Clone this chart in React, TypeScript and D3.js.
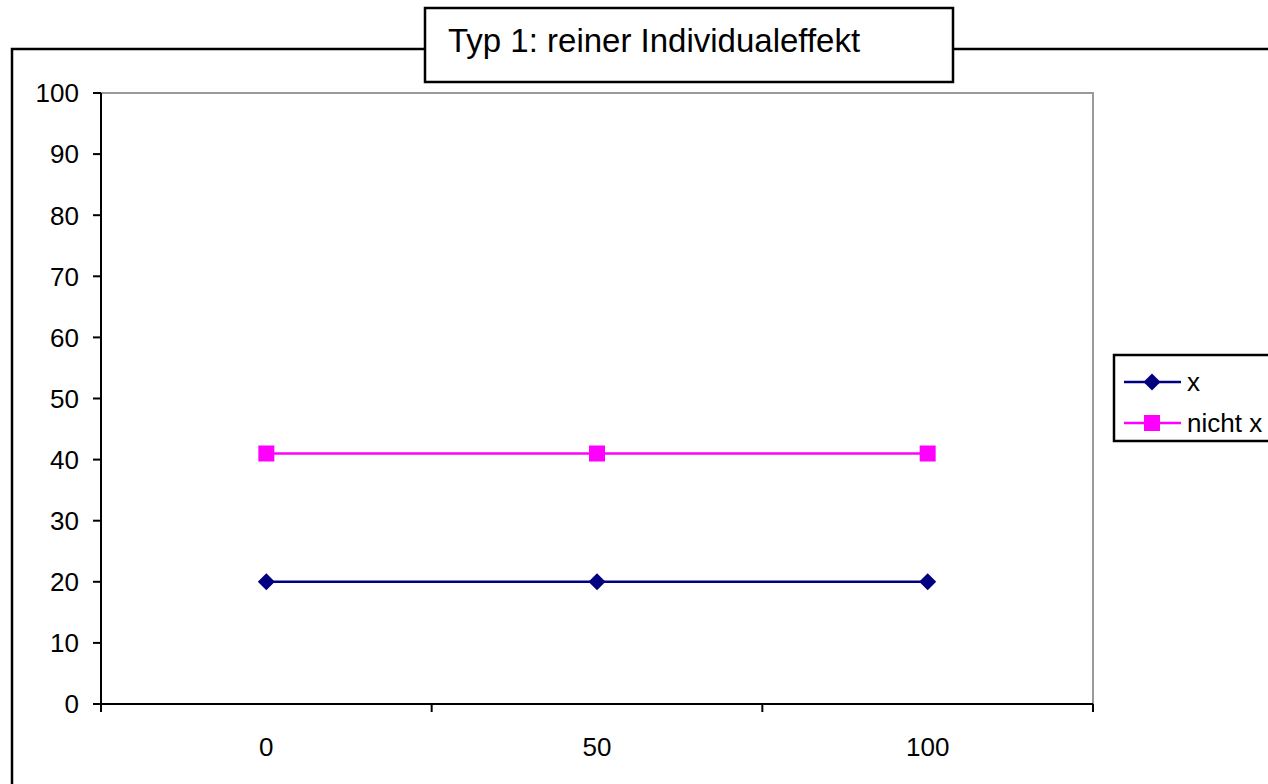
import React from "react";
import * as d3 from "d3";

// Chart data
const categories: string[] = ["0", "50", "100"];
const seriesNames: string[] = ["x", "nicht x"];
const valuesX: number[] = [20, 20, 20];
const valuesNichtX: number[] = [41, 41, 41];
const yTicks: number[] = [0, 10, 20, 30, 40, 50, 60, 70, 80, 90, 100];
const titleText = "Typ 1: reiner Individualeffekt";

const W = 1268;
const H = 784;
const FONT = "'Liberation Sans', Arial, Helvetica, sans-serif";

const plot = { left: 101, right: 1093, top: 93, bottom: 704 };

const colors = { x: "#000080", nichtX: "#FF00FF" };

export default function App() {
  const x = d3
    .scaleBand<string>()
    .domain(categories)
    .range([plot.left, plot.right])
    .paddingInner(0)
    .paddingOuter(0);
  const y = d3.scaleLinear().domain([0, 100]).range([plot.bottom, plot.top]);

  const cx = (c: string) => (x(c) ?? 0) + x.bandwidth() / 2;

  const line = d3
    .line<[string, number]>()
    .x((d) => cx(d[0]))
    .y((d) => y(d[1]));

  const dataX: [string, number][] = categories.map((c, i) => [c, valuesX[i]]);
  const dataN: [string, number][] = categories.map((c, i) => [c, valuesNichtX[i]]);

  // Category boundaries for x tick marks
  const xBoundaries = [...categories.map((c) => x(c) ?? 0), plot.right];

  const diamond = (px: number, py: number, r: number) =>
    `M${px},${py - r}L${px + r},${py}L${px},${py + r}L${px - r},${py}Z`;

  const legend = { left: 1114, top: 355, bottom: 441, rowY: [382, 423] };

  return (
    <div style={{ position: "absolute", left: 0, top: 0 }}>
      <svg width={W} height={H} style={{ display: "block", background: "#fff" }}>
        <rect x={0} y={0} width={W} height={H} fill="#fff" />
        {/* Outer chart frame */}
        <rect x={12} y={49} width={W + 20} height={H + 20} fill="none" stroke="#000" strokeWidth={2.5} />

        {/* Plot area border (top and right) */}
        <path
          d={`M${plot.left},${plot.top}H${plot.right}V${plot.bottom}`}
          fill="none"
          stroke="#9a9a9a"
          strokeWidth={2}
        />

        {/* Y axis */}
        <line x1={plot.left} x2={plot.left} y1={plot.top} y2={plot.bottom + 8} stroke="#000" strokeWidth={2} />
        {yTicks.map((t) => (
          <g key={t}>
            <line x1={plot.left - 8} x2={plot.left} y1={y(t)} y2={y(t)} stroke="#000" strokeWidth={2} />
            <text
              x={79}
              y={y(t)}
              dy="0.36em"
              textAnchor="end"
              fontFamily={FONT}
              fontSize={26}
              fill="#000"
            >
              {t}
            </text>
          </g>
        ))}

        {/* X axis */}
        <line x1={plot.left - 8} x2={plot.right} y1={plot.bottom} y2={plot.bottom} stroke="#000" strokeWidth={2} />
        {xBoundaries.map((b, i) => (
          <line key={i} x1={b} x2={b} y1={plot.bottom} y2={plot.bottom + 8} stroke="#000" strokeWidth={2} />
        ))}
        {categories.map((c) => (
          <text
            key={c}
            x={cx(c)}
            y={747}
            dy="0.36em"
            textAnchor="middle"
            fontFamily={FONT}
            fontSize={26}
            fill="#000"
          >
            {c}
          </text>
        ))}

        {/* Series lines */}
        <path d={line(dataN) ?? ""} fill="none" stroke={colors.nichtX} strokeWidth={2.5} />
        <path d={line(dataX) ?? ""} fill="none" stroke={colors.x} strokeWidth={2.5} />
        {dataN.map((d, i) => (
          <rect key={i} x={cx(d[0]) - 8} y={y(d[1]) - 8} width={16} height={16} fill={colors.nichtX} />
        ))}
        {dataX.map((d, i) => (
          <path key={i} d={diamond(cx(d[0]), y(d[1]), 8.5)} fill={colors.x} />
        ))}

        {/* Title box */}
        <rect x={425} y={8} width={528} height={74} fill="#fff" stroke="#000" strokeWidth={2.5} />
        <text x={448} y={52} fontFamily={FONT} fontSize={33} fill="#000">
          {titleText}
        </text>

        {/* Legend */}
        <rect
          x={legend.left}
          y={legend.top}
          width={W}
          height={legend.bottom - legend.top}
          fill="#fff"
          stroke="#000"
          strokeWidth={2.5}
        />
        {seriesNames.map((name, i) => {
          const ly = legend.rowY[i];
          const col = i === 0 ? colors.x : colors.nichtX;
          return (
            <g key={name}>
              <line x1={1124} x2={1181} y1={ly} y2={ly} stroke={col} strokeWidth={2.5} />
              {i === 0 ? (
                <path d={diamond(1152, ly, 8.5)} fill={col} />
              ) : (
                <rect x={1144} y={ly - 8} width={16} height={16} fill={col} />
              )}
              <text x={1187} y={ly} dy="0.36em" fontFamily={FONT} fontSize={26} fill="#000">
                {name}
              </text>
            </g>
          );
        })}
      </svg>
    </div>
  );
}
